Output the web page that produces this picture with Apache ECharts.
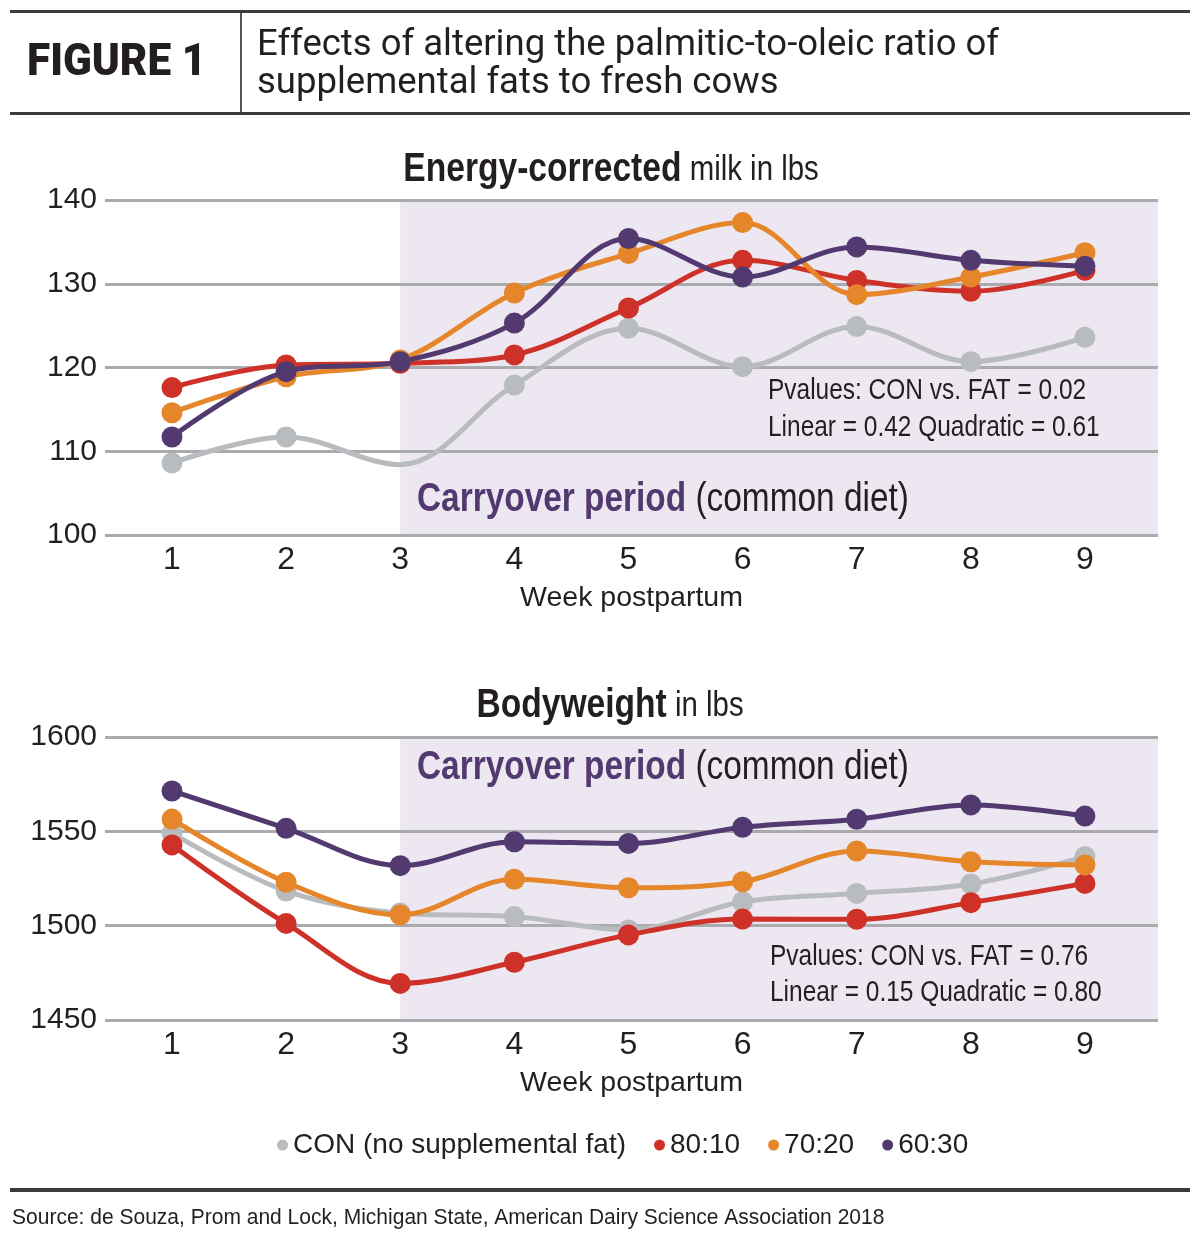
<!DOCTYPE html>
<html><head><meta charset="utf-8">
<script src="https://cdn.jsdelivr.net/npm/echarts@6/dist/echarts.min.js"></script>
<style>html,body{margin:0;padding:0;background:#fff}#c{width:1200px;height:1247px}</style>
</head><body><div id="c"></div>
<script>
// ---------- data ----------
const weeks = [1, 2, 3, 4, 5, 6, 7, 8, 9];
const seriesNames = ['CON (no supplemental fat)', '80:10', '70:20', '60:30'];
// Energy-corrected milk, lbs
const milkCON  = [108.6, 111.7, 108.4, 117.9, 124.7, 120.1, 124.9, 120.7, 123.6];
const milk8010 = [117.6, 120.3, 120.5, 121.5, 127.1, 132.8, 130.4, 129.1, 131.6];
const milk7020 = [114.6, 118.9, 120.9, 128.9, 133.6, 137.3, 128.7, 130.8, 133.7];
const milk6030 = [111.7, 119.5, 120.7, 125.3, 135.4, 130.8, 134.4, 132.8, 132.1];
// Bodyweight, lbs
const bwCON  = [1549.0, 1518.4, 1506.7, 1504.8, 1497.7, 1512.7, 1517.1, 1522.1, 1536.6];
const bw8010 = [1542.8, 1501.2, 1469.4, 1480.6, 1495.1, 1503.5, 1503.4, 1512.2, 1522.4];
const bw7020 = [1556.5, 1523.0, 1505.7, 1524.6, 1520.1, 1523.3, 1539.6, 1533.9, 1532.2];
const bw6030 = [1571.4, 1551.6, 1531.8, 1544.5, 1543.6, 1552.1, 1556.4, 1564.0, 1558.1];
const milkTicks = [100, 110, 120, 130, 140];
const bwTicks = [1450, 1500, 1550, 1600];
const carryoverStartWeek = 3;
const milkNoMarkerWeeks = [3]; // CON week-3 marker not drawn in source
const pMilk = ['Pvalues: CON vs. FAT = 0.02', 'Linear = 0.42 Quadratic = 0.61'];
const pBw = ['Pvalues: CON vs. FAT = 0.76', 'Linear = 0.15 Quadratic = 0.80'];

// ---------- styling ----------
const colors = ['#b9bcbf', '#cd3128', '#e5862a', '#52396f'];
const FONT = "'Liberation Sans', Arial, sans-serif";
const INK = '#231f20';
const SHADE = '#ece7f0';
const X_MIN = 0.413, X_MAX = 9.64;

function pairs(vals, skip) {
  return weeks.map((w, i) => {
    const d = { value: [w, vals[i]] };
    if (skip && skip.indexOf(w) >= 0) d.symbol = 'none';
    return d;
  });
}

const chart = echarts.init(document.getElementById('c'), null, { renderer: 'canvas' });

const gridDefs = [
  { left: 105, top: 200, width: 1053, height: 335 },
  { left: 105, top: 737, width: 1053, height: 283 }
];

function xAx(gi) {
  return {
    type: 'value', gridIndex: gi, min: X_MIN, max: X_MAX, z: 1,
    axisLine: { show: false }, axisTick: { show: false }, splitLine: { show: false },
    axisLabel: { customValues: weeks, fontFamily: FONT, fontSize: 32, color: INK, margin: 9 },
    name: 'Week postpartum', nameLocation: 'middle', nameGap: 49,
    nameTextStyle: { fontFamily: FONT, fontSize: 28.5, color: INK }
  };
}
function yAx(gi, ticks) {
  return {
    type: 'value', gridIndex: gi, min: ticks[0], max: ticks[ticks.length - 1],
    interval: ticks[1] - ticks[0], z: 1,
    axisLine: { show: false }, axisTick: { show: false },
    splitLine: { show: true, lineStyle: { color: '#a9abae', width: 3 } },
    axisLabel: { fontFamily: FONT, fontSize: 30, color: INK, margin: 8, formatter: v => String(v) }
  };
}

function lineSeries(name, vals, gi, ci, skip) {
  return {
    name: name, type: 'line', xAxisIndex: gi, yAxisIndex: gi,
    data: pairs(vals, skip), smooth: 0.35, z: 2 + ci,
    symbol: 'circle', symbolSize: 21, showAllSymbol: true,
    lineStyle: { width: 5, color: colors[ci] },
    itemStyle: { color: colors[ci] },
    emphasis: { disabled: true }, animation: false
  };
}
function shadeSeries(gi, ticks) {
  const lo = ticks[0], hi = ticks[ticks.length - 1];
  return {
    type: 'line', xAxisIndex: gi, yAxisIndex: gi, z: 0, silent: true,
    data: [[carryoverStartWeek, lo]], showSymbol: false, symbol: 'none', lineStyle: { width: 0 },
    markArea: { z: 0, silent: true, itemStyle: { color: SHADE, opacity: 1 },
      label: { show: false },
      data: [[{ coord: [carryoverStartWeek, lo] }, { coord: [X_MAX, hi] }]] },
    animation: false
  };
}

function txt(x, y, text, font, sx, align) {
  return {
    type: 'text', x: x, y: y, scaleX: sx || 1, silent: true, z: 100,
    style: { text: text, font: font, fill: INK, textVerticalAlign: 'middle', verticalAlign: 'middle',
      textAlign: align || 'left', align: align || 'left' }
  };
}
function rich2(x, y, b, n, size1, size2, bcol, sx, align) {
  return {
    type: 'text', x: x, y: y, scaleX: sx, silent: true, z: 100,
    style: {
      text: '{b|' + b + '}{n|' + n + '}',
      rich: {
        b: { fontFamily: FONT, fontWeight: 'bold', fontSize: size1, fill: bcol || INK, color: bcol || INK },
        n: { fontFamily: FONT, fontSize: size2, fill: INK, color: INK }
      },
      textVerticalAlign: 'middle', verticalAlign: 'middle',
      textAlign: align || 'left', align: align || 'left'
    }
  };
}

const graphics = [
  { type: 'rect', shape: { x: 10, y: 10, width: 1180, height: 3 }, style: { fill: '#3b3b3b' }, silent: true },
  { type: 'rect', shape: { x: 10, y: 112, width: 1180, height: 3 }, style: { fill: '#3b3b3b' }, silent: true },
  { type: 'rect', shape: { x: 240, y: 13, width: 2, height: 99 }, style: { fill: '#555' }, silent: true },
  { type: 'rect', shape: { x: 10, y: 1188, width: 1180, height: 4 }, style: { fill: '#3b3b3b' }, silent: true },
  txt(27, 64, 'FIGURE 1', "900 45px Roboto", 0.94),
  txt(257, 46, 'Effects of altering the palmitic-to-oleic ratio of', "400 36.5px Roboto"),
  txt(257, 84, 'supplemental fats to fresh cows', "400 36.5px Roboto"),
  rich2(611, 170, 'Energy-corrected', ' milk in lbs', 40, 35, null, 0.84, 'center'),
  rich2(610, 706, 'Bodyweight', ' in lbs', 40, 35, null, 0.84, 'center'),
  rich2(417, 500, 'Carryover period', ' (common diet)', 40, 40, '#52396f', 0.835),
  rich2(417, 768, 'Carryover period', ' (common diet)', 40, 40, '#52396f', 0.835),
  txt(768, 391, pMilk[0], "30px " + FONT, 0.815),
  txt(768, 428, pMilk[1], "30px " + FONT, 0.815),
  txt(770, 957, pBw[0], "30px " + FONT, 0.815),
  txt(770, 993, pBw[1], "30px " + FONT, 0.815),
  txt(12, 1218, 'Source: de Souza, Prom and Lock, Michigan State, American Dairy Science Association 2018', "22px " + FONT, 0.955)
];

const option = {
  backgroundColor: '#ffffff',
  animation: false,
  grid: gridDefs,
  xAxis: [xAx(0), xAx(1)],
  yAxis: [yAx(0, milkTicks), yAx(1, bwTicks)],
  legend: {
    data: seriesNames, left: 272, top: 1126, icon: 'circle',
    itemWidth: 11, itemHeight: 11, itemGap: 28, selectedMode: false,
    textStyle: { fontFamily: FONT, fontSize: 28, color: INK }
  },
  series: [
    shadeSeries(0, milkTicks),
    shadeSeries(1, bwTicks),
    lineSeries(seriesNames[0], milkCON, 0, 0, milkNoMarkerWeeks),
    lineSeries(seriesNames[1], milk8010, 0, 1),
    lineSeries(seriesNames[2], milk7020, 0, 2),
    lineSeries(seriesNames[3], milk6030, 0, 3),
    lineSeries(seriesNames[0], bwCON, 1, 0),
    lineSeries(seriesNames[1], bw8010, 1, 1),
    lineSeries(seriesNames[2], bw7020, 1, 2),
    lineSeries(seriesNames[3], bw6030, 1, 3)
  ],
  graphic: graphics
};
chart.setOption(option);
</script></body></html>
